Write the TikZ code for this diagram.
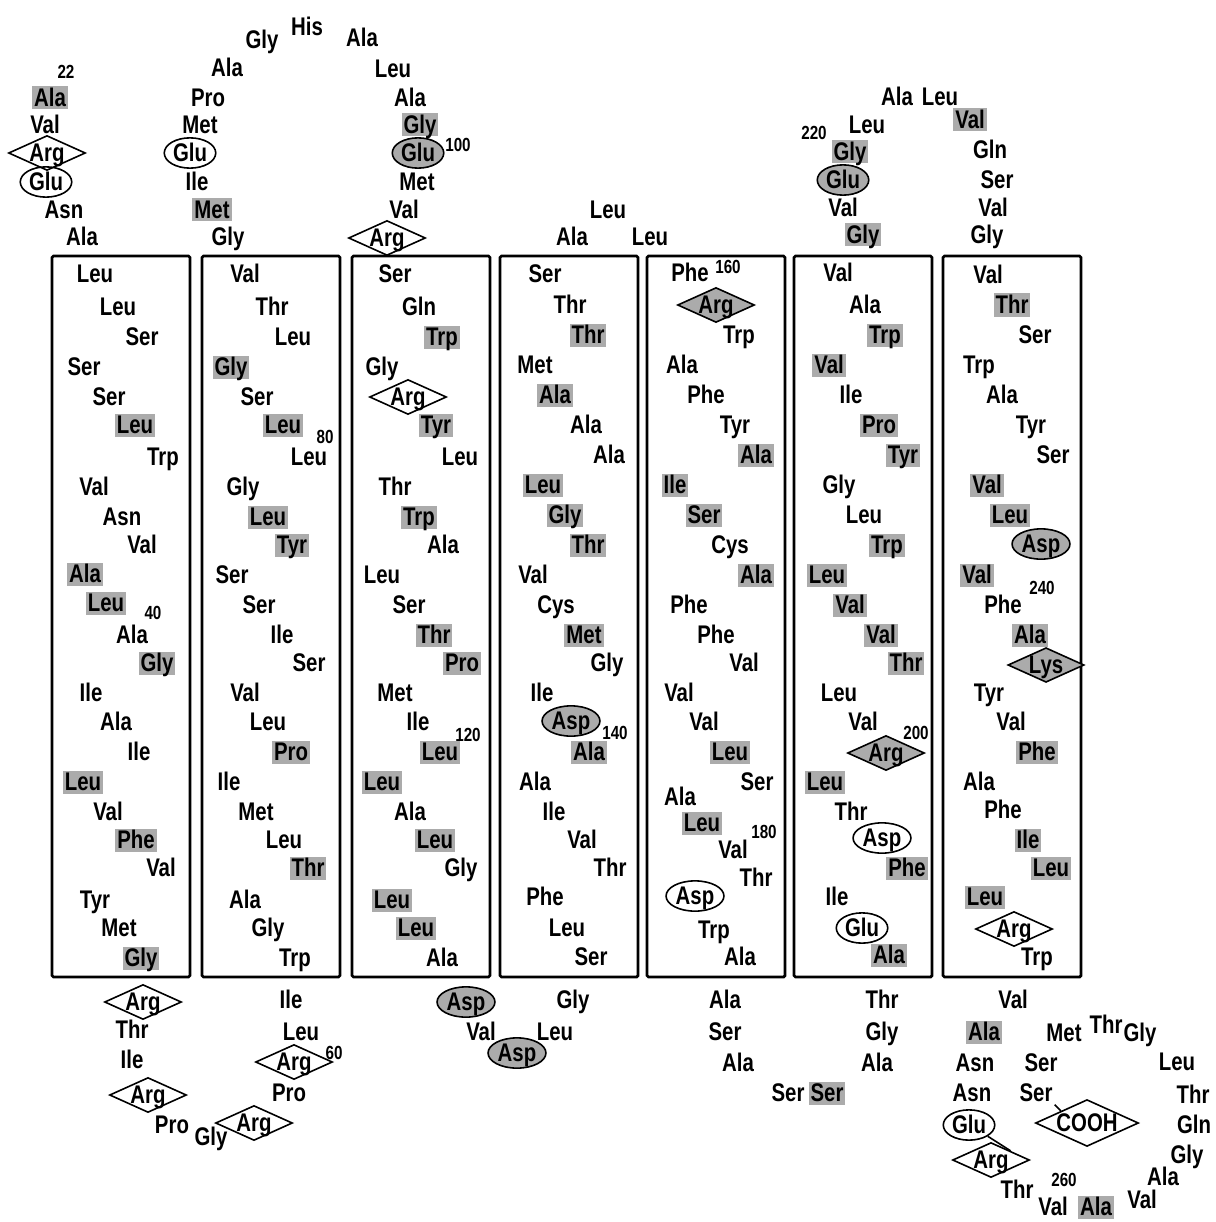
\documentclass[tikz,border=0pt]{standalone}
\usepackage{fontspec}
\setmainfont{Liberation Sans}[FakeStretch=0.8]
\usetikzlibrary{shapes.geometric}
\newcommand\resfont{\fontsize{25.5}{27}\selectfont\bfseries}
\newcommand\numfont{\fontsize{19}{20}\selectfont\bfseries}
\tikzset{
  res/.style={font=\resfont,inner sep=2pt,text height=18pt,text depth=1pt},
  hyd/.style={res,fill=black!33},
  acid/.style={res,ellipse,draw,line width=1.6pt,inner sep=1.2pt},
  acidhyd/.style={acid,fill=black!33},
  basic/.style={res,diamond,draw,aspect=2.2,line width=1.6pt,inner sep=0pt},
  basichyd/.style={basic,fill=black!33},
  num/.style={font=\numfont,inner sep=0pt},
  helix/.style={draw,line width=2.8pt,rounded corners=1.5pt},
  link/.style={line width=1.6pt}
}
\begin{document}
\begin{tikzpicture}[x=1pt,y=-1pt]
  \useasboundingbox (0,0) rectangle (1215,1222);
  % membrane helices
  \foreach \x in {52,202,352,500,647,794,943}
    \draw[helix] (\x,256) rectangle ++(138,721);

  % N-terminal segment
  \node[num] (lab22) at (66,72) {22};
  \node[hyd] (n1) at (50,98) {Ala};
  \node[res] (n2) at (45,125) {Val};
  \node[basic] (n3) at (47,153) {Arg};
  \node[acid] (n4) at (46,182) {Glu};
  \node[res] (n5) at (64,210) {Asn};
  \node[res] (n6) at (82,237) {Ala};

  % helix A
  \node[res] (a1) at (95,274) {Leu};
  \node[res] (a2) at (118,307) {Leu};
  \node[res] (a3) at (142,337) {Ser};
  \node[res] (a4) at (84,367) {Ser};
  \node[res] (a5) at (109,397) {Ser};
  \node[hyd] (a6) at (135,425) {Leu};
  \node[res] (a7) at (163,457) {Trp};
  \node[res] (a8) at (94,487) {Val};
  \node[res] (a9) at (122,517) {Asn};
  \node[res] (a10) at (142,545) {Val};
  \node[hyd] (a11) at (85,574) {Ala};
  \node[hyd] (a12) at (106,603) {Leu};
  \node[num] (lab40) at (153,613) {40};
  \node[res] (a13) at (132,635) {Ala};
  \node[hyd] (a14) at (157,663) {Gly};
  \node[res] (a15) at (91,693) {Ile};
  \node[res] (a16) at (116,722) {Ala};
  \node[res] (a17) at (139,752) {Ile};
  \node[hyd] (a18) at (83,782) {Leu};
  \node[res] (a19) at (108,812) {Val};
  \node[hyd] (a20) at (136,840) {Phe};
  \node[res] (a21) at (161,868) {Val};
  \node[res] (a22) at (95,900) {Tyr};
  \node[res] (a23) at (119,928) {Met};
  \node[hyd] (a24) at (141,958) {Gly};

  % loop A-B
  \node[basic] (ab1) at (143,1002) {Arg};
  \node[res] (ab2) at (132,1030) {Thr};
  \node[res] (ab3) at (132,1060) {Ile};
  \node[basic] (ab4) at (148,1095) {Arg};
  \node[res] (ab5) at (172,1125) {Pro};
  \node[res] (ab6) at (211,1137) {Gly};
  \node[basic] (ab7) at (254,1123) {Arg};
  \node[res] (ab8) at (289,1093) {Pro};
  \node[basic] (ab9) at (294,1062) {Arg};
  \node[num] (lab60) at (334,1053) {60};
  \node[res] (ab10) at (301,1032) {Leu};
  \node[res] (ab11) at (291,1000) {Ile};

  % helix B
  \node[res] (b1) at (245,274) {Val};
  \node[res] (b2) at (272,307) {Thr};
  \node[res] (b3) at (293,337) {Leu};
  \node[hyd] (b4) at (231,367) {Gly};
  \node[res] (b5) at (257,397) {Ser};
  \node[hyd] (b6) at (283,425) {Leu};
  \node[num] (lab80) at (325,437) {80};
  \node[res] (b7) at (309,457) {Leu};
  \node[res] (b8) at (243,487) {Gly};
  \node[hyd] (b9) at (268,517) {Leu};
  \node[hyd] (b10) at (292,545) {Tyr};
  \node[res] (b11) at (232,575) {Ser};
  \node[res] (b12) at (259,605) {Ser};
  \node[res] (b13) at (282,635) {Ile};
  \node[res] (b14) at (309,663) {Ser};
  \node[res] (b15) at (245,693) {Val};
  \node[res] (b16) at (268,722) {Leu};
  \node[hyd] (b17) at (291,752) {Pro};
  \node[res] (b18) at (229,782) {Ile};
  \node[res] (b19) at (256,812) {Met};
  \node[res] (b20) at (284,840) {Leu};
  \node[hyd] (b21) at (308,868) {Thr};
  \node[res] (b22) at (245,900) {Ala};
  \node[res] (b23) at (268,928) {Gly};
  \node[res] (b24) at (295,958) {Trp};

  % loop B-C
  \node[res] (bc1) at (228,237) {Gly};
  \node[hyd] (bc2) at (212,210) {Met};
  \node[res] (bc3) at (197,182) {Ile};
  \node[acid] (bc4) at (190,153) {Glu};
  \node[res] (bc5) at (200,125) {Met};
  \node[res] (bc6) at (208,98) {Pro};
  \node[res] (bc7) at (227,68) {Ala};
  \node[res] (bc8) at (262,40) {Gly};
  \node[res] (bc9) at (307,27) {His};
  \node[res] (bc10) at (362,38) {Ala};
  \node[res] (bc11) at (393,69) {Leu};
  \node[res] (bc12) at (410,98) {Ala};
  \node[hyd] (bc13) at (420,125) {Gly};
  \node[acidhyd] (bc14) at (418,153) {Glu};
  \node[num] (lab100) at (458,145) {100};
  \node[res] (bc15) at (417,182) {Met};
  \node[res] (bc16) at (404,210) {Val};
  \node[basic] (bc17) at (387,238) {Arg};

  % helix C
  \node[res] (c1) at (395,274) {Ser};
  \node[res] (c2) at (419,307) {Gln};
  \node[hyd] (c3) at (442,337) {Trp};
  \node[res] (c4) at (382,367) {Gly};
  \node[basic] (c5) at (408,397) {Arg};
  \node[hyd] (c6) at (436,425) {Tyr};
  \node[res] (c7) at (460,457) {Leu};
  \node[res] (c8) at (395,487) {Thr};
  \node[hyd] (c9) at (419,517) {Trp};
  \node[res] (c10) at (443,545) {Ala};
  \node[res] (c11) at (382,575) {Leu};
  \node[res] (c12) at (409,605) {Ser};
  \node[hyd] (c13) at (434,635) {Thr};
  \node[hyd] (c14) at (462,663) {Pro};
  \node[res] (c15) at (395,693) {Met};
  \node[res] (c16) at (418,722) {Ile};
  \node[num] (lab120) at (468,735) {120};
  \node[hyd] (c17) at (440,752) {Leu};
  \node[hyd] (c18) at (382,782) {Leu};
  \node[res] (c19) at (410,812) {Ala};
  \node[hyd] (c20) at (435,840) {Leu};
  \node[res] (c21) at (461,868) {Gly};
  \node[hyd] (c22) at (392,900) {Leu};
  \node[hyd] (c23) at (416,928) {Leu};
  \node[res] (c24) at (442,958) {Ala};

  % loop C-D
  \node[acidhyd] (cd1) at (466,1002) {Asp};
  \node[res] (cd2) at (481,1032) {Val};
  \node[acidhyd] (cd3) at (517,1053) {Asp};
  \node[res] (cd4) at (555,1032) {Leu};
  \node[res] (cd5) at (573,1000) {Gly};

  % helix D
  \node[res] (d1) at (545,274) {Ser};
  \node[res] (d2) at (570,305) {Thr};
  \node[hyd] (d3) at (588,335) {Thr};
  \node[res] (d4) at (535,365) {Met};
  \node[hyd] (d5) at (555,395) {Ala};
  \node[res] (d6) at (586,425) {Ala};
  \node[res] (d7) at (609,455) {Ala};
  \node[hyd] (d8) at (543,485) {Leu};
  \node[hyd] (d9) at (565,515) {Gly};
  \node[hyd] (d10) at (588,545) {Thr};
  \node[res] (d11) at (533,575) {Val};
  \node[res] (d12) at (556,605) {Cys};
  \node[hyd] (d13) at (584,635) {Met};
  \node[res] (d14) at (607,663) {Gly};
  \node[res] (d15) at (542,693) {Ile};
  \node[acidhyd] (d16) at (571,721) {Asp};
  \node[num] (lab140) at (615,733) {140};
  \node[hyd] (d17) at (589,752) {Ala};
  \node[res] (d18) at (535,782) {Ala};
  \node[res] (d19) at (554,812) {Ile};
  \node[res] (d20) at (582,840) {Val};
  \node[res] (d21) at (610,868) {Thr};
  \node[res] (d22) at (545,897) {Phe};
  \node[res] (d23) at (567,928) {Leu};
  \node[res] (d24) at (591,957) {Ser};

  % loop D-E
  \node[res] (de1) at (572,237) {Ala};
  \node[res] (de2) at (608,210) {Leu};
  \node[res] (de3) at (650,237) {Leu};

  % helix E
  \node[res] (e1) at (690,273) {Phe};
  \node[num] (lab160) at (728,267) {160};
  \node[basichyd] (e2) at (716,305) {Arg};
  \node[res] (e3) at (739,335) {Trp};
  \node[res] (e4) at (682,365) {Ala};
  \node[res] (e5) at (706,395) {Phe};
  \node[res] (e6) at (735,425) {Tyr};
  \node[hyd] (e7) at (756,455) {Ala};
  \node[hyd] (e8) at (675,485) {Ile};
  \node[hyd] (e9) at (704,515) {Ser};
  \node[res] (e10) at (730,545) {Cys};
  \node[hyd] (e11) at (756,575) {Ala};
  \node[res] (e12) at (689,605) {Phe};
  \node[res] (e13) at (716,635) {Phe};
  \node[res] (e14) at (744,663) {Val};
  \node[res] (e15) at (679,693) {Val};
  \node[res] (e16) at (704,722) {Val};
  \node[hyd] (e17) at (730,752) {Leu};
  \node[res] (e18) at (757,782) {Ser};
  \node[res] (e19) at (680,797) {Ala};
  \node[hyd] (e20) at (702,823) {Leu};
  \node[num] (lab180) at (764,832) {180};
  \node[res] (e21) at (733,850) {Val};
  \node[res] (e22) at (756,878) {Thr};
  \node[acid] (e23) at (695,896) {Asp};
  \node[res] (e24) at (714,930) {Trp};
  \node[res] (e25) at (740,957) {Ala};

  % loop E-F
  \node[res] (ef1) at (725,1000) {Ala};
  \node[res] (ef2) at (725,1032) {Ser};
  \node[res] (ef3) at (738,1063) {Ala};
  \node[res] (ef4) at (788,1093) {Ser};
  \node[hyd] (ef5) at (827,1093) {Ser};
  \node[res] (ef6) at (877,1063) {Ala};
  \node[res] (ef7) at (882,1032) {Gly};
  \node[res] (ef8) at (882,1000) {Thr};

  % helix F
  \node[res] (f1) at (838,273) {Val};
  \node[res] (f2) at (865,305) {Ala};
  \node[hyd] (f3) at (885,335) {Trp};
  \node[hyd] (f4) at (829,365) {Val};
  \node[res] (f5) at (851,395) {Ile};
  \node[hyd] (f6) at (879,425) {Pro};
  \node[hyd] (f7) at (903,455) {Tyr};
  \node[res] (f8) at (839,485) {Gly};
  \node[res] (f9) at (864,515) {Leu};
  \node[hyd] (f10) at (887,545) {Trp};
  \node[hyd] (f11) at (827,575) {Leu};
  \node[hyd] (f12) at (850,605) {Val};
  \node[hyd] (f13) at (881,635) {Val};
  \node[hyd] (f14) at (906,663) {Thr};
  \node[res] (f15) at (839,693) {Leu};
  \node[res] (f16) at (863,722) {Val};
  \node[num] (lab200) at (916,733) {200};
  \node[basichyd] (f17) at (886,753) {Arg};
  \node[hyd] (f18) at (825,782) {Leu};
  \node[res] (f19) at (851,812) {Thr};
  \node[acid] (f20) at (882,838) {Asp};
  \node[hyd] (f21) at (907,868) {Phe};
  \node[res] (f22) at (837,897) {Ile};
  \node[acid] (f23) at (862,928) {Glu};
  \node[hyd] (f24) at (889,955) {Ala};

  % loop F-G
  \node[hyd] (fg1) at (863,235) {Gly};
  \node[res] (fg2) at (843,208) {Val};
  \node[acidhyd] (fg3) at (843,180) {Glu};
  \node[hyd] (fg4) at (850,152) {Gly};
  \node[num] (lab220) at (814,133) {220};
  \node[res] (fg5) at (867,125) {Leu};
  \node[res] (fg6) at (897,97) {Ala};
  \node[res] (fg7) at (940,97) {Leu};
  \node[hyd] (fg8) at (970,120) {Val};
  \node[res] (fg9) at (990,150) {Gln};
  \node[res] (fg10) at (997,180) {Ser};
  \node[res] (fg11) at (993,208) {Val};
  \node[res] (fg12) at (987,235) {Gly};

  % helix G
  \node[res] (g1) at (988,275) {Val};
  \node[hyd] (g2) at (1012,305) {Thr};
  \node[res] (g3) at (1035,335) {Ser};
  \node[res] (g4) at (979,365) {Trp};
  \node[res] (g5) at (1002,395) {Ala};
  \node[res] (g6) at (1031,425) {Tyr};
  \node[res] (g7) at (1053,455) {Ser};
  \node[hyd] (g8) at (987,485) {Val};
  \node[hyd] (g9) at (1010,515) {Leu};
  \node[acidhyd] (g10) at (1041,544) {Asp};
  \node[hyd] (g11) at (977,575) {Val};
  \node[res] (g12) at (1003,605) {Phe};
  \node[num] (lab240) at (1042,588) {240};
  \node[hyd] (g13) at (1030,635) {Ala};
  \node[basichyd] (g14) at (1046,665) {Lys};
  \node[res] (g15) at (989,693) {Tyr};
  \node[res] (g16) at (1011,722) {Val};
  \node[hyd] (g17) at (1037,752) {Phe};
  \node[res] (g18) at (979,782) {Ala};
  \node[res] (g19) at (1003,810) {Phe};
  \node[hyd] (g20) at (1028,840) {Ile};
  \node[hyd] (g21) at (1051,868) {Leu};
  \node[hyd] (g22) at (985,897) {Leu};
  \node[basic] (g23) at (1014,929) {Arg};
  \node[res] (g24) at (1037,957) {Trp};

  % C-terminal segment
  \node[res] (ct1) at (1013,1000) {Val};
  \node[hyd] (ct2) at (984,1032) {Ala};
  \node[res] (ct3) at (975,1063) {Asn};
  \node[res] (ct4) at (972,1093) {Asn};
  \node[acid] (ct5) at (969,1125) {Glu};
  \node[basic] (ct6) at (991,1160) {Arg};
  \node[res] (ct7) at (1017,1190) {Thr};
  \node[num] (lab260) at (1064,1180) {260};
  \node[res] (ct8) at (1053,1207) {Val};
  \node[hyd] (ct9) at (1096,1207) {Ala};
  \node[res] (ct10) at (1142,1200) {Val};
  \node[res] (ct11) at (1163,1177) {Ala};
  \node[res] (ct12) at (1187,1155) {Gly};
  \node[res] (ct13) at (1194,1125) {Gln};
  \node[res] (ct14) at (1193,1095) {Thr};
  \node[res] (ct15) at (1177,1062) {Leu};
  \node[res] (ct16) at (1140,1033) {Gly};
  \node[res] (ct17) at (1106,1025) {Thr};
  \node[res] (ct18) at (1064,1033) {Met};
  \node[res] (ct19) at (1041,1063) {Ser};
  \node[res] (ct20) at (1036,1093) {Ser};
  \node[basic] (cooh) at (1087,1123) {COOH};
  \draw[link] (ct20.south east) -- (cooh.north west);
  \draw[link] (ct5.south east) -- (ct6.north east);
\end{tikzpicture}
\end{document}
